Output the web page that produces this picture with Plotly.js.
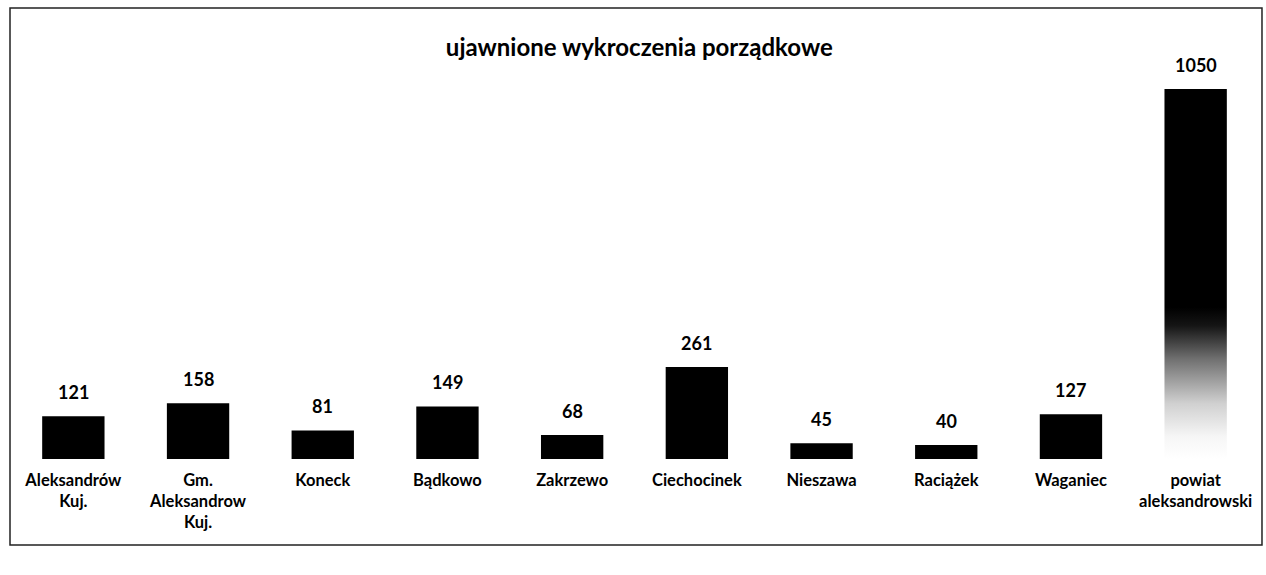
<!DOCTYPE html>
<html>
<head>
<meta charset="utf-8">
<script src="https://cdn.plot.ly/plotly-3.0.1.min.js"></script>
<style>html,body{margin:0;padding:0;background:#fff;}#chart{width:1266px;height:575px;}</style>
</head>
<body>
<div id="chart"></div>
<script>
const categories = ["Aleksandrów<br>Kuj.", "Gm.<br>Aleksandrow<br>Kuj.", "Koneck", "Bądkowo", "Zakrzewo", "Ciechocinek", "Nieszawa", "Raciążek", "Waganiec", "powiat<br>aleksandrowski"];
const values = [121, 158, 81, 149, 68, 261, 45, 40, 127, 1050];
const chartTitle = "ujawnione wykroczenia porządkowe";

const FONT = "Lato, 'Open Sans', sans-serif";
const idx = categories.map((c, i) => i);
const lastIdx = values.length - 1;

// regular bars (the total bar is drawn with a gradient fill below)
const barColors = values.map((v, i) => i === lastIdx ? "rgba(0,0,0,0)" : "#000");
const bars = {
  type: "bar",
  x: idx,
  y: values,
  marker: {color: barColors, line: {width: 0}},
  hoverinfo: "x+y",
  showlegend: false
};

// total bar with vertical gradient (black at top fading to white at base)
const half = 0.25;
const gradBar = {
  type: "scatter",
  mode: "lines",
  x: [lastIdx - half, lastIdx - half, lastIdx + half, lastIdx + half, lastIdx - half],
  y: [0, values[lastIdx], values[lastIdx], 0, 0],
  fill: "toself",
  line: {width: 0, color: "rgba(0,0,0,0)"},
  fillgradient: {
    type: "vertical",
    start: 0,
    stop: values[lastIdx],
    colorscale: [[0, "#ffffff"], [0.06, "#f6f6f6"], [0.15, "#d0d0d0"], [0.27, "#707070"], [0.36, "#151515"], [0.41, "#000000"], [1, "#000000"]]
  },
  hoverinfo: "skip",
  showlegend: false
};

const annotations = values.map((v, i) => ({
  x: i, y: v, xref: "x", yref: "y",
  text: String(v),
  showarrow: false,
  yanchor: "bottom",
  yshift: 11,
  font: {family: FONT, size: 18, color: "#000", weight: "bold"}
}));

const layout = {
  width: 1266,
  height: 575,
  margin: {l: 11, r: 8, t: 60, b: 116},
  paper_bgcolor: "#fff",
  plot_bgcolor: "#fff",
  bargap: 0.5,
  title: {
    text: chartTitle,
    x: 0.505, xanchor: "center",
    y: 1 - 48 / 575, yanchor: "middle", yref: "container",
    font: {family: FONT, size: 24, color: "#000", weight: "bold"}
  },
  xaxis: {
    range: [-0.5, 9.5],
    tickmode: "array",
    tickvals: idx,
    ticktext: categories,
    showgrid: false, zeroline: false, showline: false,
    ticks: "",
    ticklabelstandoff: 9,
    tickfont: {family: FONT, size: 16.5, color: "#000", weight: "bold"},
    fixedrange: true
  },
  yaxis: {
    range: [0, 1132],
    visible: false,
    showgrid: false, zeroline: false,
    fixedrange: true
  },
  annotations: annotations,
  shapes: [{
    type: "rect", xref: "paper", yref: "paper",
    x0: -0.0008, x1: 1.0032, y0: -0.2155, y1: 1.1303,
    line: {color: "#222", width: 1.5},
    fillcolor: "rgba(0,0,0,0)"
  }]
};

Plotly.newPlot("chart", [bars, gradBar], layout, {displayModeBar: false, staticPlot: true});
</script>
</body>
</html>
